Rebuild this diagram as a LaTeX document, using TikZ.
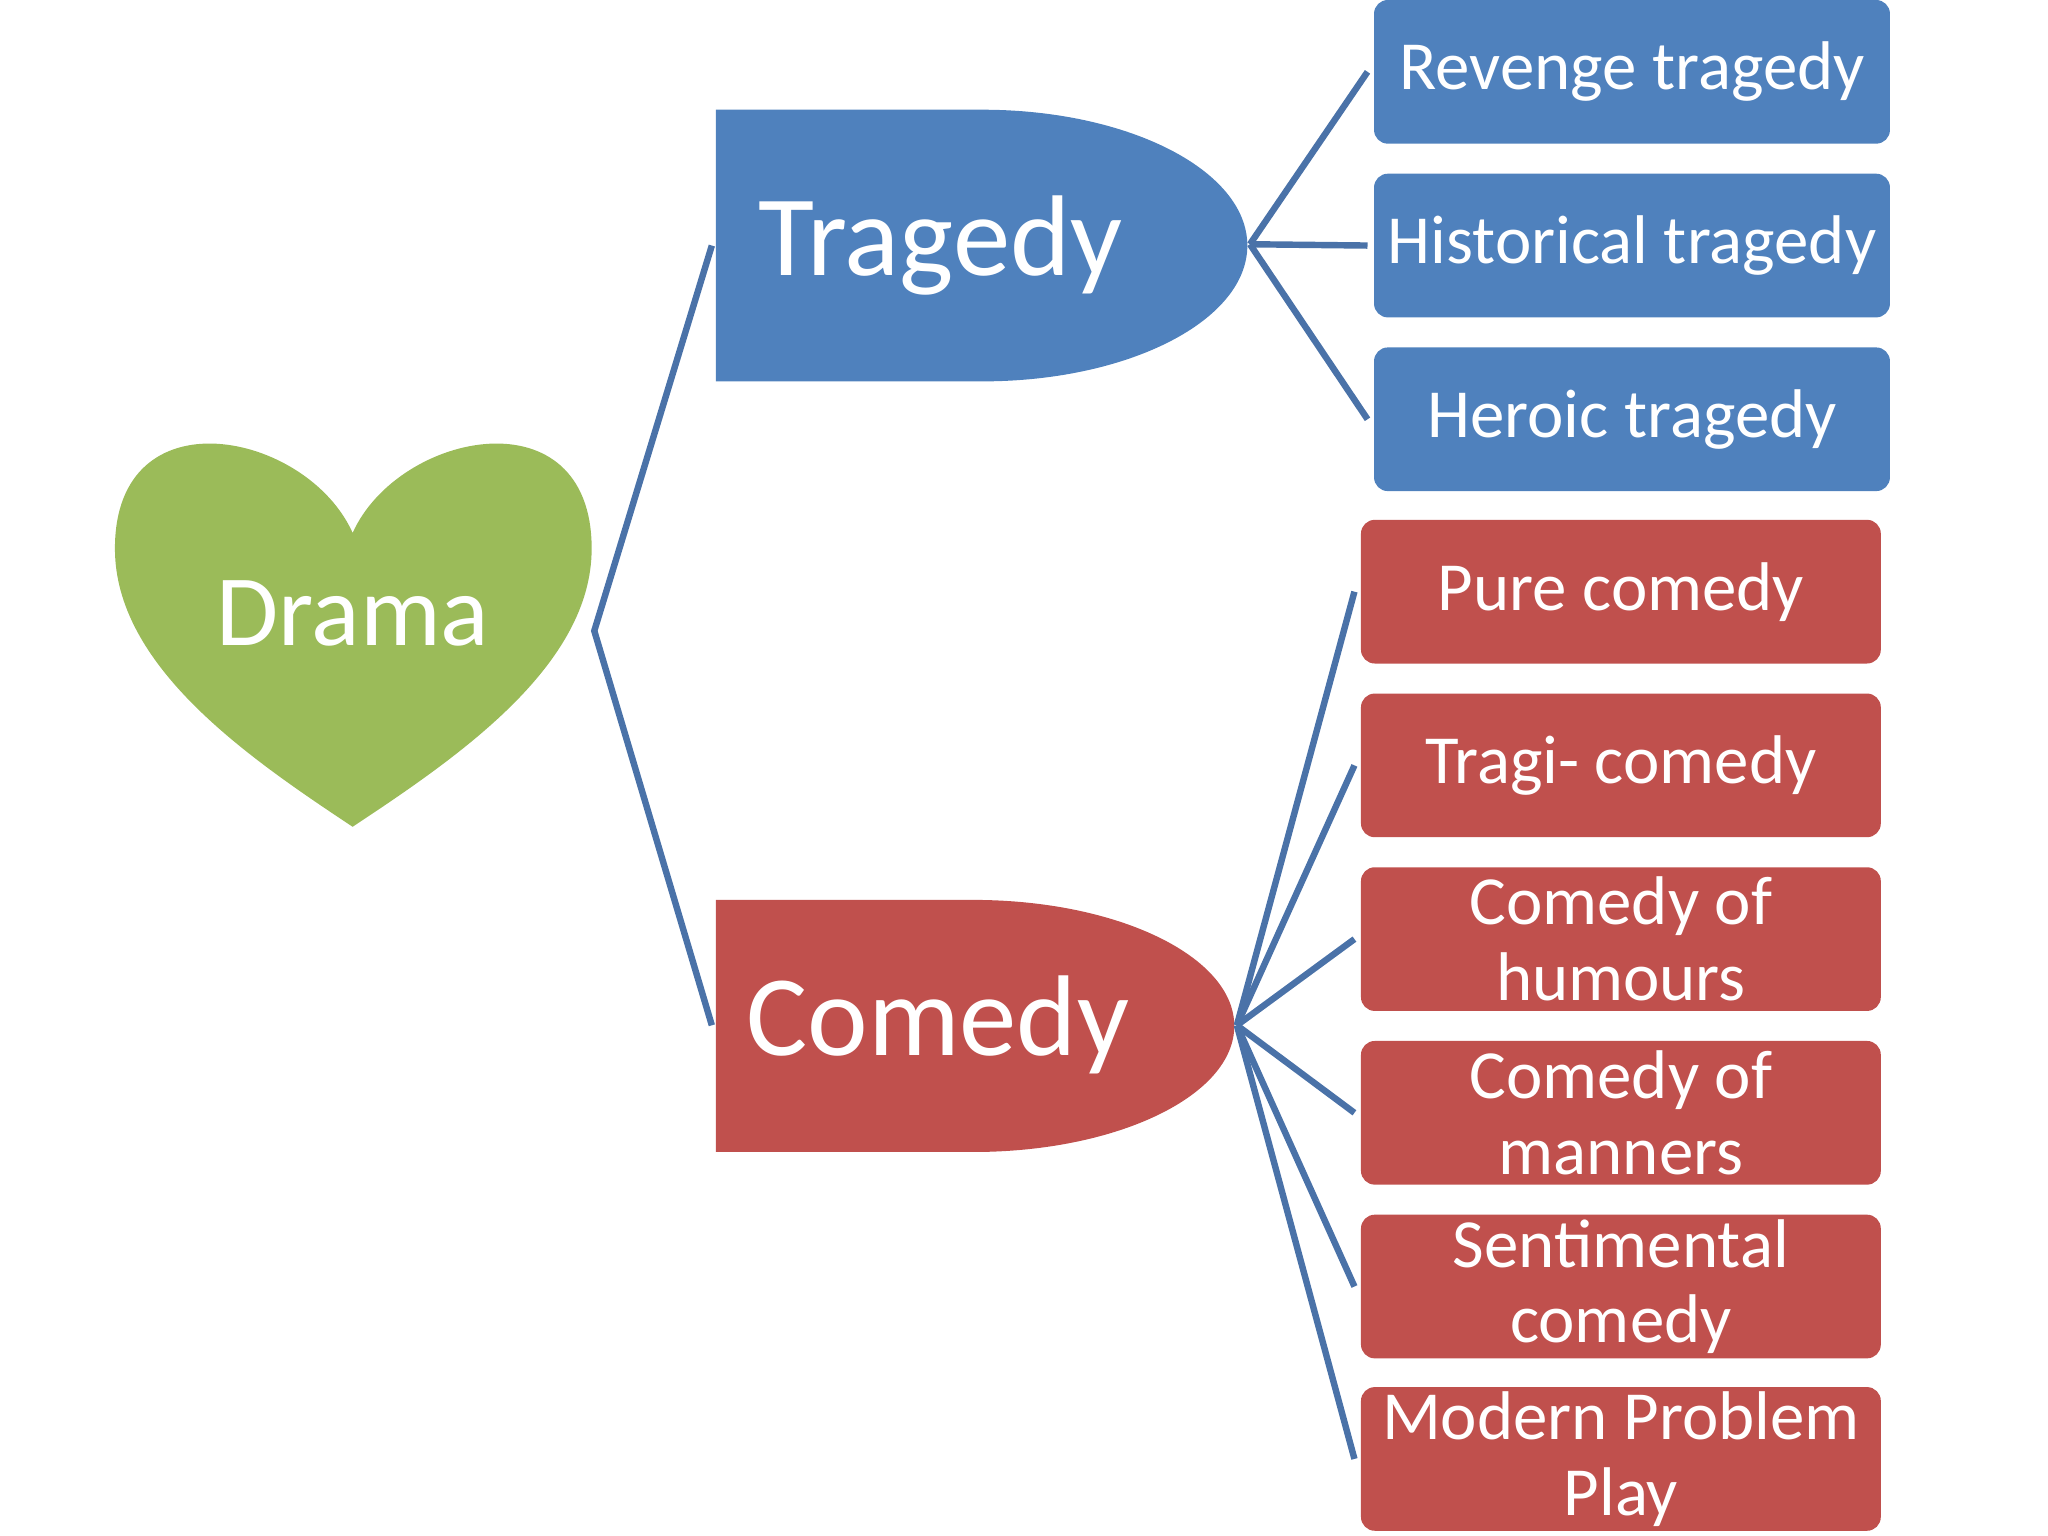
\documentclass[tikz,border=0pt]{standalone}
\usepackage{fontspec}
\setmainfont{Carlito}
\definecolor{bl}{HTML}{4F81BD}
\definecolor{rd}{HTML}{C0504D}
\definecolor{gr}{HTML}{9BBB59}
\definecolor{ln}{HTML}{4A72A8}
\begin{document}
\begin{tikzpicture}[x=0.01cm,y=-0.01cm,
  conn/.style={ln,line width=1.4pt},
  bbox/.style={fill=bl,rounded corners=3pt,draw=none},
  rbox/.style={fill=rd,rounded corners=3pt,draw=none},
  txt/.style={text=white,font=\fontsize{15}{16.5}\selectfont,align=center},
  big/.style={text=white,font=\fontsize{25}{28}\selectfont}]
\useasboundingbox (0,0) rectangle (1568,1176);
% heart
\fill[gr] (270,408) .. controls (235,330) and (88,300) .. (88,420)
  .. controls (88,510) and (190,580) .. (270,633)
  .. controls (350,580) and (453,510) .. (453,420)
  .. controls (453,300) and (305,330) .. (270,408) -- cycle;
\node[big,font=\fontsize{22}{25}\selectfont] (drama) at (270,470) {Drama};
% tragedy
\fill[bl] (548,84) -- (752,84) arc[start angle=-90,end angle=90,x radius=203,y radius=104] -- (548,292) -- cycle;
\node[big] (trag) at (720,188) {Tragedy};
\fill[rd] (548,689) -- (745,689) arc[start angle=-90,end angle=90,x radius=200,y radius=96.5] -- (548,882) -- cycle;
\node[big] (com) at (718,785) {Comedy};
\coordinate (d) at (455,483);
\coordinate (ti) at (545,188);
\coordinate (ci) at (545,785);
\draw[conn] (ti) -- (d) -- (ci);
% tragedy children
\coordinate (to) at (957,187);
\foreach \n/\y/\t in {r1/55/Revenge tragedy,r2/188/Historical tragedy,r3/321/Heroic tragedy}{
  \fill[bbox] (1052,\y-55) rectangle (1447,\y+55);
  \node[txt] (\n) at (1249.5,\y) {\t};
  \coordinate (\n e) at (1047,\y);
  \draw[conn] (to) -- (\n e);
}
\coordinate (co) at (947,785);
\foreach \n/\y/\t in {c1/453/Pure comedy,c2/586/Tragi- comedy,c3/719/Comedy of\\humours,c4/852/Comedy of\\manners,c5/985/Sentimental\\comedy,c6/1117/Modern Problem\\Play}{
  \fill[rbox] (1042,\y-55) rectangle (1440,\y+55);
  \node[txt] (\n) at (1241,\y) {\t};
  \coordinate (\n e) at (1037,\y);
  \draw[conn] (co) -- (\n e);
}
\end{tikzpicture}
\end{document}
